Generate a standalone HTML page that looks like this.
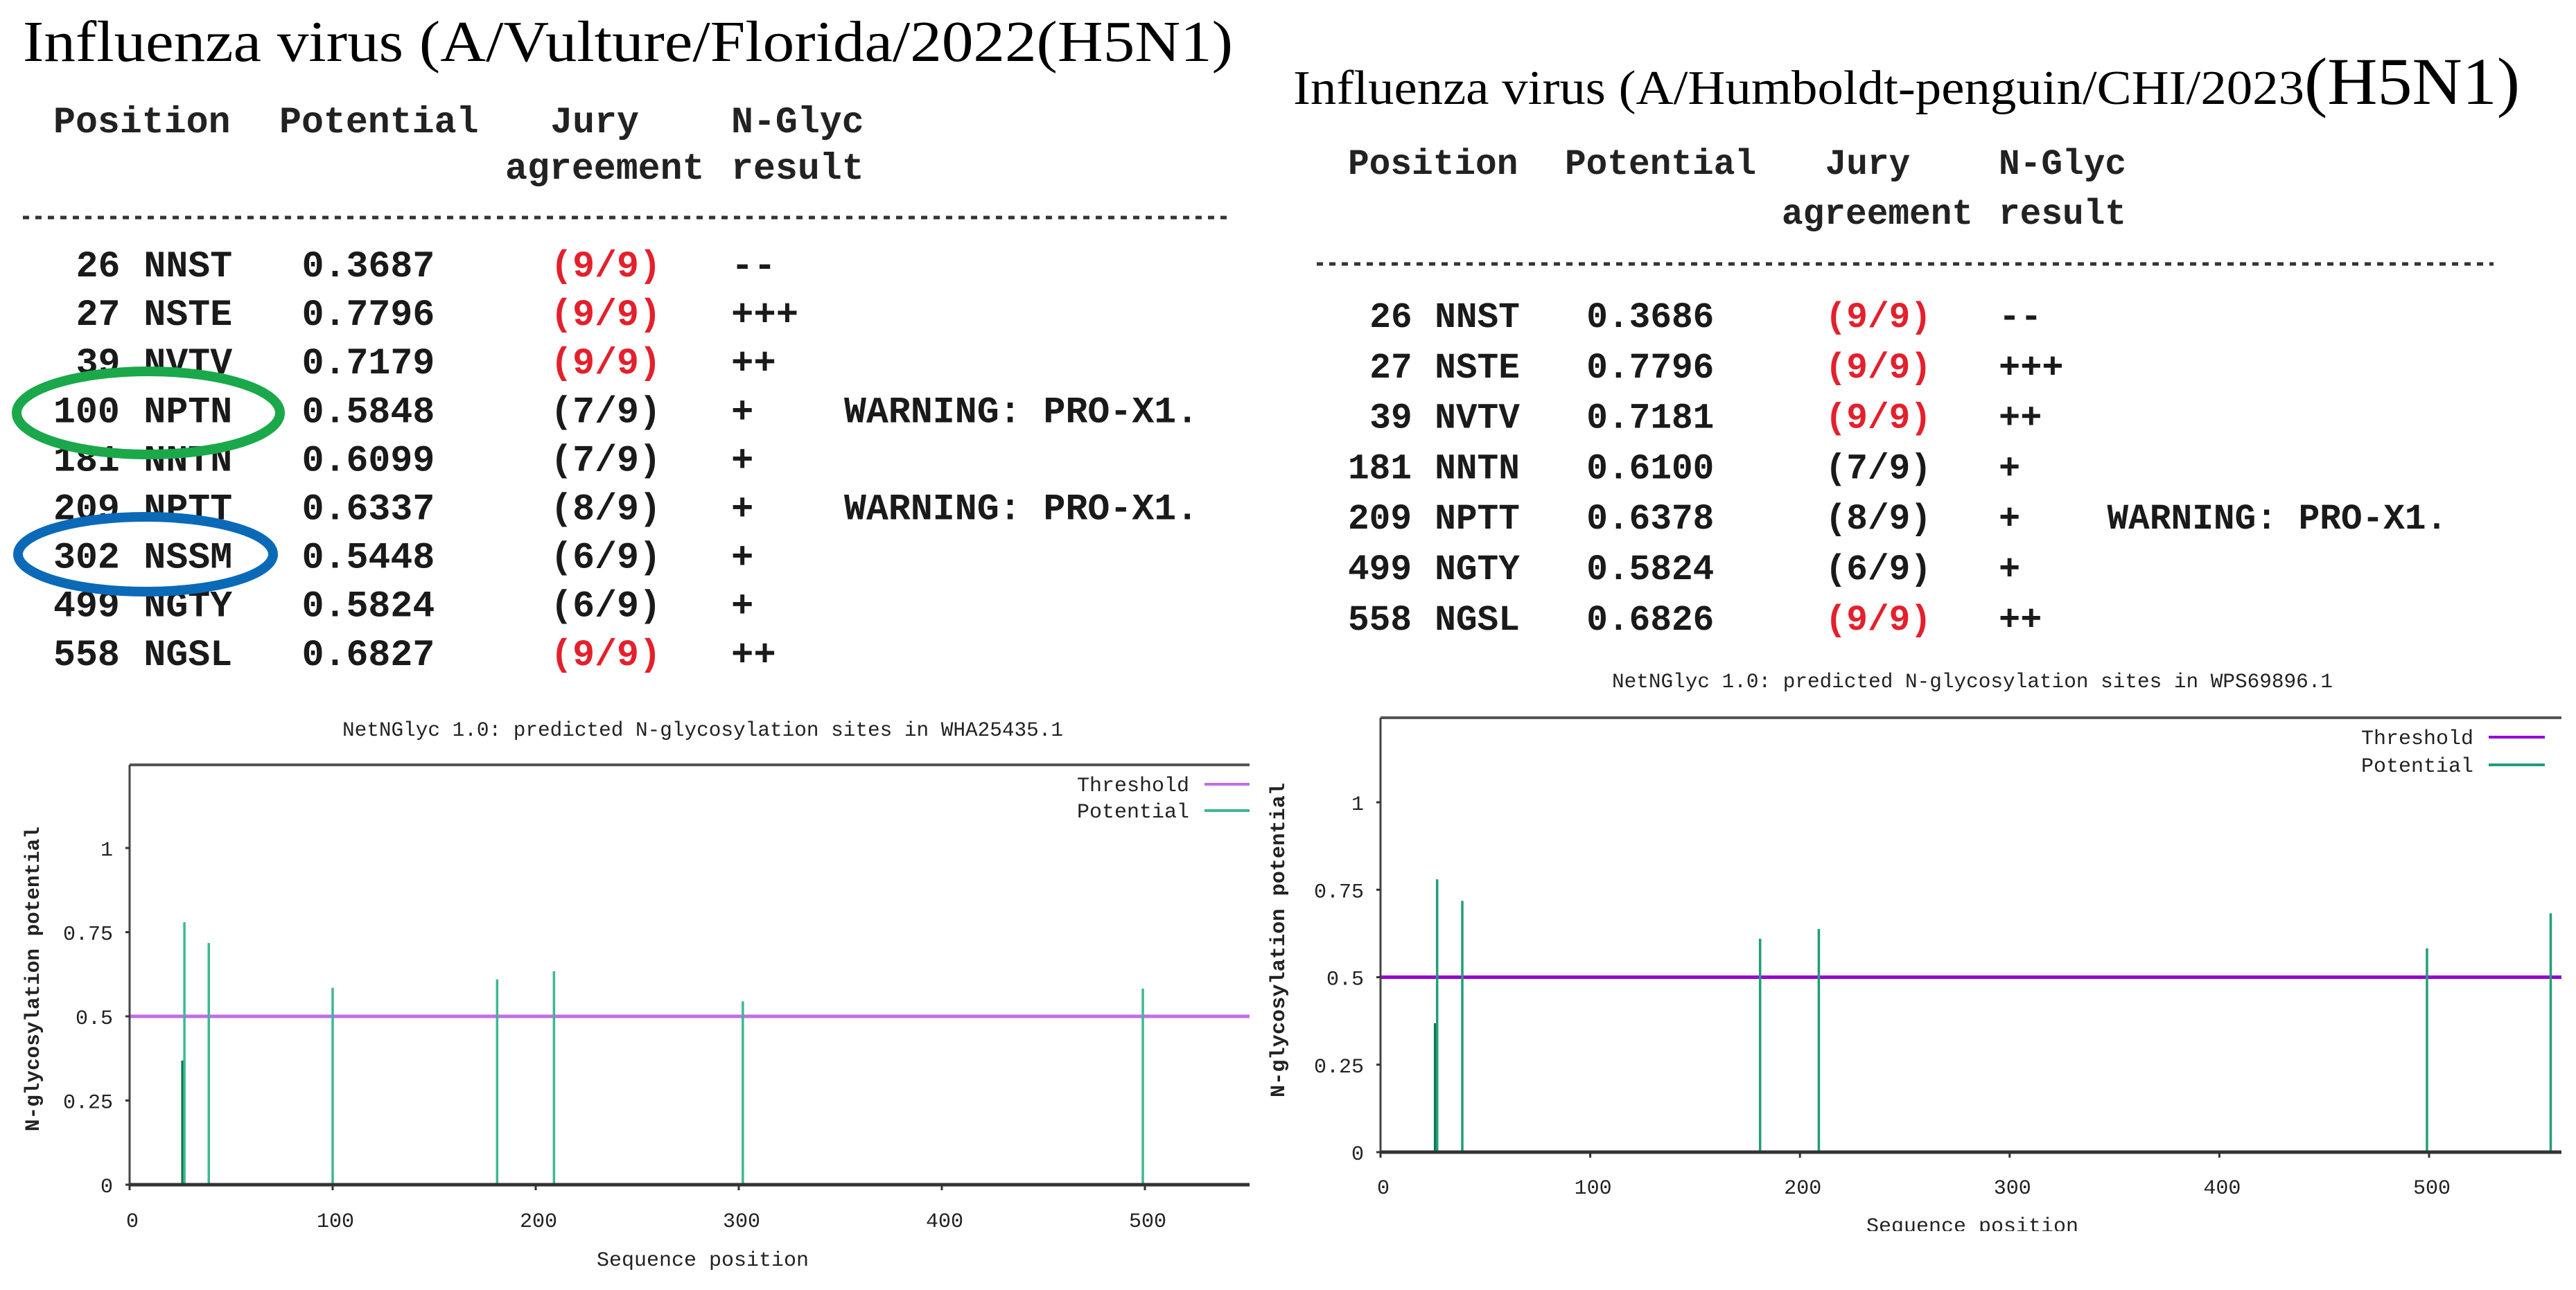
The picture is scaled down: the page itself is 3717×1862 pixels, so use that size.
<!DOCTYPE html>
<html><head><meta charset="utf-8">
<style>
html,body{margin:0;padding:0;background:#fff;}
svg{display:block;}
.mono{font-family:"Liberation Mono",monospace;}
.hd{font-family:"Liberation Mono",monospace;font-weight:bold;fill:#222;}
.tx{font-family:"Liberation Mono",monospace;font-weight:bold;fill:#1a1a1a;}
.red{fill:#e3202c;}
.ser{font-family:"Liberation Serif",serif;fill:#000;}
.ax{font-family:"Liberation Mono",monospace;fill:#222;font-size:30px;}
</style></head>
<body>
<svg id="root" width="3717" height="1862" viewBox="0 0 3717 1862" xmlns="http://www.w3.org/2000/svg">
<rect width="3717" height="1862" fill="#fff"/>
<!-- LEFT TITLE & TABLE -->
<text class="ser" x="33" y="88" font-size="84" textLength="1746" lengthAdjust="spacingAndGlyphs">Influenza virus (A/Vulture/Florida/2022(H5N1)</text>
<g id="ltable"></g>
<ellipse cx="214" cy="596" rx="190" ry="60" fill="none" stroke="#1aa84a" stroke-width="14"/>
<ellipse cx="210" cy="800" rx="184" ry="54" fill="none" stroke="#0a6ab8" stroke-width="14"/>
<!-- RIGHT TITLE & TABLE -->
<text class="ser" x="1866" y="150"><tspan font-size="70" textLength="1459" lengthAdjust="spacingAndGlyphs">Influenza virus (A/Humboldt-penguin/CHI/2023</tspan><tspan font-size="96" textLength="311" lengthAdjust="spacingAndGlyphs">(H5N1)</tspan></text>
<g id="rtable"></g>
<g id="lchart"></g>
<g id="rchart"></g>
</svg>
<script>
// ---- data ----
const leftPositions = [26, 27, 39, 100, 181, 209, 302, 499, 558];
const leftSeqs = ["NNST","NSTE","NVTV","NPTN","NNTN","NPTT","NSSM","NGTY","NGSL"];
const leftPotential = [0.3687, 0.7796, 0.7179, 0.5848, 0.6099, 0.6337, 0.5448, 0.5824, 0.6827];
const leftJury = ["(9/9)","(9/9)","(9/9)","(7/9)","(7/9)","(8/9)","(6/9)","(6/9)","(9/9)"];
const leftResult = ["--","+++","++","+","+","+","+","+","++"];
const leftWarn = ["","","","WARNING: PRO-X1.","","WARNING: PRO-X1.","","",""];

const rightPositions = [26, 27, 39, 181, 209, 499, 558];
const rightSeqs = ["NNST","NSTE","NVTV","NNTN","NPTT","NGTY","NGSL"];
const rightPotential = [0.3686, 0.7796, 0.7181, 0.6100, 0.6378, 0.5824, 0.6826];
const rightJury = ["(9/9)","(9/9)","(9/9)","(7/9)","(8/9)","(6/9)","(9/9)"];
const rightResult = ["--","+++","++","+","+","+","++"];
const rightWarn = ["","","","","WARNING: PRO-X1.","",""];

const threshold = 0.5;
const yTicks = [0, 0.25, 0.5, 0.75, 1];
const yTickLabels = ["0","0.25","0.5","0.75","1"];
const xTicks = [0, 100, 200, 300, 400, 500];

const NS = "http://www.w3.org/2000/svg";
function mk(parent, tag, attrs, text){
  const e = document.createElementNS(NS, tag);
  for (const k in attrs) e.setAttribute(k, attrs[k]);
  if (text !== undefined) e.textContent = text;
  parent.appendChild(e);
  return e;
}

function drawTable(g, cfg, pos, seqs, pot, jury, res, warn){
  const cx = c => cfg.x0 + c * cfg.cw;
  const fs = cfg.fs;
  const heads = [["Position",0,cfg.h1],["Potential",10,cfg.h1],["Jury",22,cfg.h1],["N-Glyc",30,cfg.h1],["agreement",20,cfg.h2],["result",30,cfg.h2]];
  heads.forEach(h => {
    const t = mk(g, "text", {class:"hd", x:cx(h[1]), y:h[2], "font-size":fs, textLength:h[0].length*cfg.cw*0.98, lengthAdjust:"spacingAndGlyphs"}, h[0]);
    
    
  });
  const dl = mk(g, "line", {x1:cfg.dx1, x2:cfg.dx2, y1:cfg.dy, y2:cfg.dy, stroke:"#333", "stroke-width":5, "stroke-dasharray":"9 9"});
  
  
  pos.forEach((p, i) => {
    const y = cfg.r0 + i * cfg.rs;
    const row = mk(g, "g", {});
    
    
    const s = String(p);
    mk(row, "text", {class:"tx", x:cx(3 - s.length), y:y, "font-size":fs, textLength:s.length*cfg.cw*0.98, lengthAdjust:"spacingAndGlyphs"}, s);
    mk(row, "text", {class:"tx", x:cx(4), y:y, "font-size":fs, textLength:4*cfg.cw*0.98, lengthAdjust:"spacingAndGlyphs"}, seqs[i]);
    mk(row, "text", {class:"tx", x:cx(11), y:y, "font-size":fs, textLength:6*cfg.cw*0.98, lengthAdjust:"spacingAndGlyphs"}, pot[i].toFixed(4));
    mk(row, "text", {class:"tx" + (jury[i] === "(9/9)" ? " red" : ""), x:cx(22), y:y, "font-size":fs, textLength:5*cfg.cw*0.98, lengthAdjust:"spacingAndGlyphs"}, jury[i]);
    mk(row, "text", {class:"tx", x:cx(30), y:y, "font-size":fs}, res[i]);
    if (warn[i]) mk(row, "text", {class:"tx", x:cx(35), y:y, "font-size":fs, textLength:16*cfg.cw*0.98, lengthAdjust:"spacingAndGlyphs"}, warn[i]);
  });
}

drawTable(document.getElementById("ltable"),
  {x0:77, cw:32.6, fs:54, h1:191, h2:258, dx1:33, dx2:1779, dy:314, r0:399, rs:70.1},
  leftPositions, leftSeqs, leftPotential, leftJury, leftResult, leftWarn);
drawTable(document.getElementById("rtable"),
  {x0:1945, cw:31.3, fs:52, h1:251, h2:323, dx1:1900, dx2:3598, dy:381, r0:472, rs:72.8},
  rightPositions, rightSeqs, rightPotential, rightJury, rightResult, rightWarn);

function drawChart(g, cfg, pos, pot){
  const X = v => cfg.x0 + v * cfg.kx;
  const Y = v => cfg.y0 - v * cfg.ky;
  const t = mk(g, "text", {class:"ax", x:cfg.titleX, y:cfg.titleY, "text-anchor":"middle", textLength:1040, lengthAdjust:"spacingAndGlyphs"}, cfg.title);
  
  
  // clip
  const cid = "clip" + cfg.id;
  const cp = mk(g, "clipPath", {id:cid});
  mk(cp, "rect", {x:cfg.x0, y:cfg.top, width:cfg.right - cfg.x0, height:cfg.y0 - cfg.top});
  // threshold
  const th = mk(g, "line", {x1:cfg.x0, x2:cfg.right, y1:Y(threshold), y2:Y(threshold), stroke:cfg.thColor, "stroke-width":5});
  
  
  // bars
  pos.forEach((p, i) => {
    const b = mk(g, "line", {x1:X(p), x2:X(p), y1:cfg.y0, y2:Y(pot[i]), stroke:(pot[i] < threshold ? "#0a7a4a" : cfg.barColor), "stroke-width":3.5, "clip-path":"url(#" + cid + ")"});
    
    
  });
  // frame
  mk(g, "line", {x1:cfg.x0, x2:cfg.right, y1:cfg.top, y2:cfg.top, stroke:"#555", "stroke-width":4});
  mk(g, "line", {x1:cfg.x0, x2:cfg.x0, y1:cfg.top, y2:cfg.y0 + 2, stroke:"#444", "stroke-width":3});
  const xa = mk(g, "line", {x1:cfg.x0, x2:cfg.right, y1:cfg.y0, y2:cfg.y0, stroke:"#333", "stroke-width":5});
  
  
  yTicks.forEach((v, i) => {
    mk(g, "line", {x1:cfg.x0 - 6, x2:cfg.x0, y1:Y(v), y2:Y(v), stroke:"#333", "stroke-width":3});
    const l = mk(g, "text", {class:"ax", x:cfg.x0 - 24, y:Y(v) + 11, "text-anchor":"end"}, yTickLabels[i]);
    
    
  });
  xTicks.forEach(v => {
    mk(g, "line", {x1:X(v), x2:X(v), y1:cfg.y0, y2:cfg.y0 + 8, stroke:"#333", "stroke-width":3});
    const l = mk(g, "text", {class:"ax", x:X(v) + 4, y:cfg.xtY, "text-anchor":"middle"}, String(v));
    
    
  });
  const xt = mk(g, "text", {class:"ax", x:cfg.titleX, y:cfg.xTitleY, "text-anchor":"middle"}, "Sequence position");
  
  
  const yt = mk(g, "text", {class:"ax", x:0, y:0, "text-anchor":"middle", "font-weight":"bold", textLength:cfg.yTitleLen, lengthAdjust:"spacingAndGlyphs", transform:"translate(" + cfg.yTitleX + "," + cfg.yTitleY + ") rotate(-90)"}, "N-glycosylation potential");
  
  
  // legend
  const lg = mk(g, "g", {});
  
  
  mk(lg, "text", {class:"ax", x:cfg.legX - 22, y:cfg.legY1 + 10, "text-anchor":"end"}, "Threshold");
  mk(lg, "line", {x1:cfg.legX, x2:cfg.legX2, y1:cfg.legY1, y2:cfg.legY1, stroke:cfg.thColor, "stroke-width":4});
  mk(lg, "text", {class:"ax", x:cfg.legX - 22, y:cfg.legY2 + 10, "text-anchor":"end"}, "Potential");
  mk(lg, "line", {x1:cfg.legX, x2:cfg.legX2, y1:cfg.legY2, y2:cfg.legY2, stroke:cfg.barColor, "stroke-width":4});
}

drawChart(document.getElementById("lchart"), {
  id:"L", x0:187, kx:2.93, y0:1710, ky:486, top:1104, right:1803,
  title:"NetNGlyc 1.0: predicted N-glycosylation sites in WHA25435.1", titleX:1014, titleY:1062,
  thColor:"#c06ee6", barColor:"#3cb894", xtY:1771, xTitleY:1827, yTitleX:56, yTitleY:1413, yTitleLen:440,
  legX:1738, legX2:1803, legY1:1132, legY2:1170
}, leftPositions, leftPotential);

drawChart(document.getElementById("rchart"), {
  id:"R", x0:1992, kx:3.026, y0:1663, ky:505, top:1036, right:3696,
  title:"NetNGlyc 1.0: predicted N-glycosylation sites in WPS69896.1", titleX:2846, titleY:992,
  thColor:"#9400d3", barColor:"#1f9e77", xtY:1723, xTitleY:1778, yTitleX:1853, yTitleY:1357, yTitleLen:454,
  legX:3591, legX2:3672, legY1:1064, legY2:1104
}, rightPositions, rightPotential);
// crop bottom of right chart's axis title like reference
mk(document.getElementById("rchart"), "rect", {x:1880, y:1777, width:1837, height:85, fill:"#fff"});
</script>
</body></html>
